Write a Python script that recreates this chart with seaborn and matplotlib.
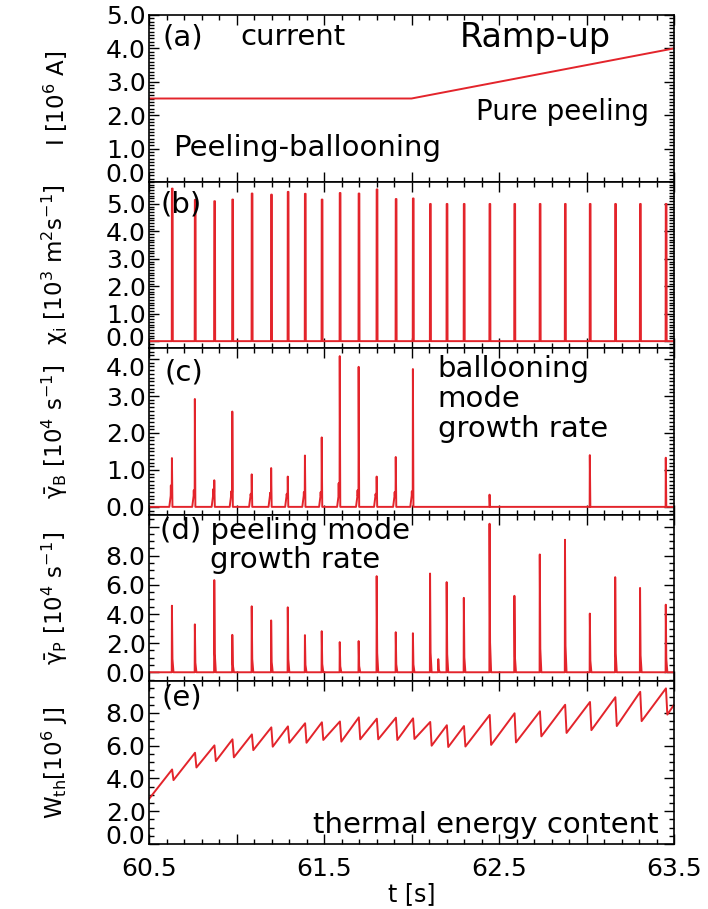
import matplotlib
matplotlib.use("Agg")
import matplotlib.pyplot as plt
import matplotlib.transforms as mtrans
import seaborn as sns
import numpy as np
from matplotlib.ticker import MultipleLocator

sns.set_style("ticks")
plt.rcParams["font.family"] = ["DejaVu Sans"]
plt.rcParams["mathtext.fontset"] = "dejavusans"
plt.rcParams["mathtext.default"] = "regular"
for k in ["text.color", "axes.labelcolor", "xtick.color", "ytick.color", "axes.edgecolor"]:
    plt.rcParams[k] = "black"

RED = "#e3242b"

# ---------------- data ----------------
# (a) plasma current
I_t = [60.5, 62.0, 63.5]
I_val = [2.5, 2.5, 4.0]

# (b) chi_i spikes (ELM crash times)
chi_t = [60.632, 60.763, 60.874, 60.977, 61.088, 61.199, 61.294, 61.392,
         61.488, 61.591, 61.699, 61.802, 61.911, 62.009, 62.107, 62.202,
         62.300, 62.447, 62.589, 62.734, 62.878, 63.020, 63.165, 63.307,
         63.454]
chi_peak = [5.56, 5.15, 5.10, 5.16, 5.38, 5.34, 5.44, 5.37, 5.16, 5.40,
            5.38, 5.53, 5.18, 5.20, 5.0, 5.0, 5.0, 5.0, 5.0, 5.0, 5.0,
            5.0, 5.0, 5.0, 5.0]

# (c) ballooning growth rate
gB_t = [60.632, 60.763, 60.874, 60.977, 61.088, 61.199, 61.294, 61.392,
        61.488, 61.591, 61.699, 61.802, 61.911, 62.009, 62.447, 63.020,
        63.454]
gB_peak = [1.32, 2.92, 0.72, 2.58, 0.88, 1.05, 0.82, 1.39, 1.88, 4.08,
           3.79, 0.82, 1.35, 3.73, 0.33, 1.40, 1.33]
gB_pre = [0.58, 0.45, 0.48, 0.42, 0.35, 0.38, 0.35, 0.40, 0.40, 0.64,
          0.45, 0.35, 0.40, 0.42, 0.0, 0.0, 0.0]

# (d) peeling growth rate
gP_t = [60.632, 60.763, 60.874, 60.977, 61.088, 61.199, 61.294, 61.392,
        61.488, 61.591, 61.699, 61.802, 61.911, 62.009, 62.107, 62.154,
        62.202, 62.300, 62.447, 62.589, 62.734, 62.878, 63.020, 63.165,
        63.307, 63.454]
gP_peak = [4.57, 3.29, 6.33, 2.57, 4.53, 3.56, 4.46, 2.55, 2.82, 2.07,
           2.14, 6.60, 2.75, 2.68, 6.78, 0.90, 6.19, 5.11, 10.2, 5.25,
           8.09, 9.10, 4.03, 6.53, 5.79, 4.64]

# (e) thermal energy content (sawtooth)
W_start = (60.5, 2.75)
W_end = (63.5, 8.5)
W_t = chi_t
W_peak = [4.55, 5.57, 6.02, 6.39, 6.69, 7.12, 7.18, 7.37, 7.43, 7.48,
          7.73, 7.65, 7.71, 7.67, 7.45, 7.25, 7.20, 7.88, 7.98, 8.10,
          8.50, 8.67, 8.96, 9.29, 9.50]
W_trough = [3.90, 4.67, 5.06, 5.29, 5.73, 5.94, 6.18, 6.18, 6.35, 6.25,
            6.39, 6.39, 6.35, 6.41, 6.00, 5.92, 5.95, 6.05, 6.20, 6.57,
            6.78, 6.95, 7.20, 7.50, 7.90]


# ---------------- build drawn waveforms from the data ----------------
def wave_b(ts, hs):
    xs, ys = [60.5], [0.0]
    for t, h in zip(ts, hs):
        xs += [t - 0.002, t - 0.001, t + 0.003, t + 0.004]
        ys += [0, h, h, 0]
    xs.append(63.5); ys.append(0.0)
    return xs, ys


def wave_c(ts, hs, ps):
    xs, ys = [60.5], [0.0]
    for t, h, p in zip(ts, hs, ps):
        if p > 0:
            r = min(0.3, p)
            xs += [t - 0.016, t - 0.008, t - 0.007, t - 0.006, t - 0.002, t - 0.001, t + 0.002]
            ys += [0, r, p, r, r + 0.1, h, 0]
        else:
            xs += [t - 0.002, t - 0.001, t + 0.002]
            ys += [0, h, 0]
    xs.append(63.5); ys.append(0.0)
    return xs, ys


def wave_d(ts, hs):
    xs, ys = [60.5], [0.0]
    for t, h in zip(ts, hs):
        xs += [t - 0.002, t - 0.001, t + 0.002, t + 0.008]
        ys += [0, h, 0.2 * h, 0]
    xs.append(63.5); ys.append(0.0)
    return xs, ys


def wave_e(ts, pk, tr):
    xs, ys = [W_start[0]], [W_start[1]]
    for t, p, q in zip(ts, pk, tr):
        xs += [t, t + 0.008]
        ys += [p, q]
    xs.append(W_end[0]); ys.append(W_end[1])
    return xs, ys


# ---------------- figure ----------------
fig = plt.figure(figsize=(7.08, 9.09), dpi=100)
L, Wd = 149 / 708, 525 / 708
rows = [(15, 182), (182, 348), (348, 515), (515, 681), (681, 844)]
axes = []
for top, bot in rows:
    axes.append(fig.add_axes([L, 1 - bot / 909, Wd, (bot - top) / 909]))

TICK_FS = 18
LAB_FS = 16.5
TXT_FS = 21

def style(ax, ylim, major, minor):
    ax.set_xlim(60.5, 63.5)
    ax.set_ylim(*ylim)
    ax.xaxis.set_major_locator(MultipleLocator(0.5))
    ax.xaxis.set_minor_locator(MultipleLocator(0.1))
    ax.yaxis.set_major_locator(MultipleLocator(major))
    ax.yaxis.set_minor_locator(MultipleLocator(minor))
    ax.tick_params(which="both", direction="in", top=True, right=True,
                   labelsize=TICK_FS, width=1.0, color="black")
    ax.tick_params(axis="y", pad=2.5)
    ax.tick_params(which="major", length=7)
    ax.tick_params(which="minor", length=3.5)
    for s in ax.spines.values():
        s.set_linewidth(1.2)
        s.set_color("black")
    ax.set_xlabel("")
    ax.set_ylabel("")


def nudge(label, dy_px):
    label.set_transform(label.get_transform() +
                        mtrans.ScaledTranslation(0, dy_px / 100.0, fig.dpi_scale_trans))


# (a)
ax = axes[0]
sns.lineplot(x=I_t, y=I_val, ax=ax, color=RED, lw=1.4, estimator=None, sort=False)
style(ax, (0, 5.0), 1.0, 0.1)
ax.set_yticks([0, 1, 2, 3, 4, 5], ["0.0", "1.0", "2.0", "3.0", "4.0", "5.0"])
ax.get_yticklabels()[0].set_va("baseline")
ax.set_ylabel("I [10$^6$ A]", fontsize=LAB_FS)
ax.text(0.026, 0.868, "(a)", transform=ax.transAxes, fontsize=TXT_FS, va="center")
ax.text(0.175, 0.868, "current", transform=ax.transAxes, fontsize=TXT_FS, va="center")
ax.text(0.592, 0.868, "Ramp-up", transform=ax.transAxes, fontsize=24, va="center")
ax.text(0.623, 0.42, "Pure peeling", transform=ax.transAxes, fontsize=20, va="center")
ax.text(0.045, 0.204, "Peeling-ballooning", transform=ax.transAxes, fontsize=21, va="center")

# (b)
ax = axes[1]
xb, yb = wave_b(chi_t, chi_peak)
sns.lineplot(x=xb, y=yb, ax=ax, color=RED, lw=1.4, estimator=None, sort=False)
style(ax, (-0.25, 5.8), 1.0, 0.1)
ax.set_yticks([0, 1, 2, 3, 4, 5], ["0.0", "1.0", "2.0", "3.0", "4.0", "5.0"])
nudge(ax.get_yticklabels()[0], 5)
ax.set_ylabel(r"$\chi_{i}$ [10$^3$ m$^2$s$^{-1}$]", fontsize=LAB_FS)
ax.text(0.021, 0.867, "(b)", transform=ax.transAxes, fontsize=TXT_FS, va="center")

# (c)
ax = axes[2]
xc, yc = wave_c(gB_t, gB_peak, gB_pre)
sns.lineplot(x=xc, y=yc, ax=ax, color=RED, lw=1.4, estimator=None, sort=False)
style(ax, (-0.22, 4.3), 1.0, 0.1)
ax.set_yticks([0, 1, 2, 3, 4], ["0.0", "1.0", "2.0", "3.0", "4.0"])
nudge(ax.get_yticklabels()[-1], -7)
ax.set_ylabel(r"$\bar{\gamma}_{B}$ [10$^4$ s$^{-1}$]", fontsize=LAB_FS)
ax.text(0.03, 0.856, "(c)", transform=ax.transAxes, fontsize=TXT_FS, va="center")
ax.text(0.55, 0.96, "ballooning\nmode\ngrowth rate", transform=ax.transAxes,
        fontsize=TXT_FS, va="top", ha="left", linespacing=1.1)

# (d)
ax = axes[3]
xd, yd = wave_d(gP_t, gP_peak)
sns.lineplot(x=xd, y=yd, ax=ax, color=RED, lw=1.4, estimator=None, sort=False)
style(ax, (-0.6, 10.8), 2.0, 0.5)
ax.set_yticks([0, 2, 4, 6, 8, 10], ["0.0", "2.0", "4.0", "6.0", "8.0", ""])
ax.set_ylabel(r"$\bar{\gamma}_{P}$ [10$^4$ s$^{-1}$]", fontsize=LAB_FS)
ax.text(0.021, 0.905, "(d) peeling mode", transform=ax.transAxes, fontsize=TXT_FS, va="center")
ax.text(0.116, 0.73, "growth rate", transform=ax.transAxes, fontsize=TXT_FS, va="center")

# (e)
ax = axes[4]
xe, ye = wave_e(W_t, W_peak, W_trough)
sns.lineplot(x=xe, y=ye, ax=ax, color=RED, lw=1.4, estimator=None, sort=False)
style(ax, (0, 9.95), 2.0, 0.5)
ax.set_yticks([0, 2, 4, 6, 8], ["0.0", "2.0", "4.0", "6.0", "8.0"])
ax.get_yticklabels()[0].set_va("baseline")
ax.set_ylabel("W$_{th}$[10$^6$ J]", fontsize=LAB_FS)
ax.text(0.024, 0.9, "(e)", transform=ax.transAxes, fontsize=TXT_FS, va="center")
ax.text(0.971, 0.117, "thermal energy content", transform=ax.transAxes,
        fontsize=TXT_FS, va="center", ha="right")

for a in axes[:-1]:
    a.tick_params(labelbottom=False)
xt = [60.5, 61.0, 61.5, 62.0, 62.5, 63.0, 63.5]
axes[-1].set_xticks(xt, ["60.5", "", "61.5", "", "62.5", "", "63.5"])
axes[-1].tick_params(axis="x", pad=9)
axes[-1].set_xlabel("t [s]", fontsize=17, labelpad=1)

for a in axes:
    a.yaxis.set_label_coords(-0.15, 0.5)

fig.savefig("out.png", dpi=100)
